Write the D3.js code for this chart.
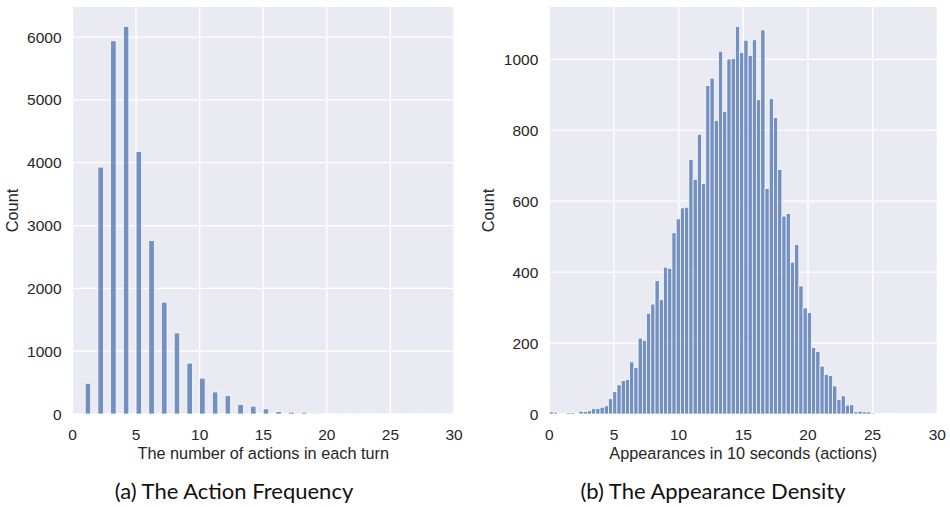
<!DOCTYPE html>
<html lang="en">
<head>
<meta charset="UTF-8">
<title>Action Frequency and Appearance Density</title>
<script src="https://d3js.org/d3.v7.min.js"></script>
<style>
    body { margin: 0; background: #fff; }
    .tick-label, .axis-label { font-family: "Liberation Sans", Arial, sans-serif; fill: #262626; }
    .caption { font-family: Lato, "Open Sans", sans-serif; fill: #111; }
</style>
</head>
<body>
<svg id="fig" width="950" height="507"></svg>
<script>
// (a) number of actions in each turn
const actionCounts = [1, 2, 3, 4, 5, 6, 7, 8, 9, 10, 11, 12, 13, 14, 15,
    16, 17, 18, 19, 20, 21, 22, 23, 24, 25, 26, 27, 28, 29];
const actionFreq = [490, 3930, 5940, 6170, 4180, 2760, 1780, 1290, 810, 570, 350, 290, 150, 125, 80,
    40, 30, 28, 15, 6, 4, 5, 2, 2, 1, 2, 1, 1, 1];

// (b) appearances in 10 seconds, one count per histogram bin (bins start at 0)
const densityCounts = [6, 5, 2, 1, 4, 4, 1, 8, 7, 9,
    15, 16, 19, 23, 43, 63, 82, 94, 97, 147,
    131, 214, 208, 284, 310, 376, 322, 414, 411, 511,
    550, 581, 583, 718, 662, 789, 650, 926, 947, 828,
    1023, 853, 1001, 1002, 1093, 1019, 1054, 1011, 1055, 886,
    1083, 636, 889, 836, 689, 558, 565, 428, 478, 361,
    299, 286, 188, 176, 135, 112, 108, 79, 41, 51,
    25, 26, 6, 8, 6, 6, 3, 1, 2, 2,
    1, 1, 0, 0, 0, 0, 0, 2, 0, 0];

const xTicks = [0, 5, 10, 15, 20, 25, 30];
const yTicksA = [0, 1000, 2000, 3000, 4000, 5000, 6000];
const yTicksB = [0, 200, 400, 600, 800, 1000];

const svg = d3.select("#fig");
const barFill = "rgba(76,114,176,0.75)";

function drawPanel(opt) {
    const x = d3.scaleLinear().domain([0, 30]).range([opt.left, opt.right]);
    const y = d3.scaleLinear().domain([0, d3.max(opt.bins, d => d.n) * 1.05]).range([opt.bottom, opt.top]);
    const g = svg.append("g");

    g.append("rect")
        .attr("x", opt.left).attr("y", opt.top)
        .attr("width", opt.right - opt.left).attr("height", opt.bottom - opt.top)
        .attr("fill", "#eaeaf2");

    // grid
    g.selectAll(".vgrid").data(opt.xTicks).enter().append("line")
        .attr("x1", d => x(d)).attr("x2", d => x(d))
        .attr("y1", opt.top).attr("y2", opt.bottom)
        .attr("stroke", "#fff").attr("stroke-width", 1.3);
    g.selectAll(".hgrid").data(opt.yTicks).enter().append("line")
        .attr("x1", opt.left).attr("x2", opt.right)
        .attr("y1", d => y(d)).attr("y2", d => y(d))
        .attr("stroke", "#fff").attr("stroke-width", 1.3);

    // bars
    g.selectAll(".bar").data(opt.bins.filter(d => d.n > 0)).enter().append("rect")
        .attr("x", d => x(d.x0))
        .attr("width", d => x(d.x0 + opt.binWidth) - x(d.x0))
        .attr("y", d => y(d.n))
        .attr("height", d => y(0) - y(d.n))
        .attr("fill", barFill)
        .attr("stroke", "#fff").attr("stroke-width", 0.7);

    // tick labels
    g.selectAll(".xt").data(opt.xTicks).enter().append("text")
        .attr("class", "tick-label")
        .attr("x", d => x(d)).attr("y", opt.bottom + 26)
        .attr("text-anchor", "middle").attr("font-size", 15.5)
        .text(d => d);
    g.selectAll(".yt").data(opt.yTicks).enter().append("text")
        .attr("class", "tick-label")
        .attr("x", opt.left - 11).attr("y", d => y(d))
        .attr("dy", "0.36em")
        .attr("text-anchor", "end").attr("font-size", 15.5)
        .text(d => d);

    // axis labels
    g.append("text").attr("class", "axis-label")
        .attr("x", (opt.left + opt.right) / 2).attr("y", opt.bottom + 45)
        .attr("text-anchor", "middle").attr("font-size", 16.3)
        .text(opt.xLabel);
    g.append("text").attr("class", "axis-label")
        .attr("transform", `translate(${opt.yLabelX},${(opt.top + opt.bottom) / 2}) rotate(-90)`)
        .attr("text-anchor", "middle").attr("font-size", 16.3)
        .text("Count");

    svg.append("text").attr("class", "caption")
        .attr("x", opt.captionX).attr("y", 499)
        .attr("text-anchor", "middle").attr("font-size", 22)
        .text(opt.caption);
}

drawPanel({
    left: 72.5, right: 454, top: 7, bottom: 414,
    bins: actionCounts.map((v, i) => ({ x0: v, n: actionFreq[i] })),
    binWidth: 0.43,
    xTicks: xTicks, yTicks: yTicksA,
    xLabel: "The number of actions in each turn",
    yLabelX: 18,
    caption: "(a) The Action Frequency", captionX: 234
});

drawPanel({
    left: 549.3, right: 937.3, top: 7, bottom: 414,
    bins: densityCounts.map((n, i) => ({ x0: i * 0.327, n: n })),
    binWidth: 0.327,
    xTicks: xTicks, yTicks: yTicksB,
    xLabel: "Appearances in 10 seconds (actions)",
    yLabelX: 494,
    caption: "(b) The Appearance Density", captionX: 713
});
</script>
</body>
</html>
